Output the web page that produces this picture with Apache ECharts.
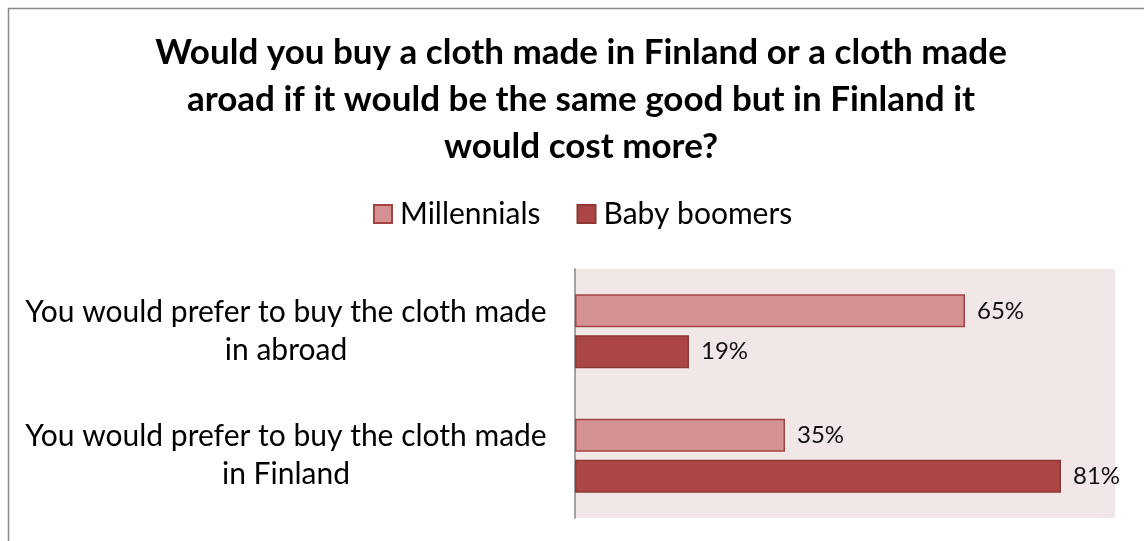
<!DOCTYPE html>
<html>
<head>
<meta charset="utf-8">
<script src="https://cdn.jsdelivr.net/npm/echarts@6/dist/echarts.min.js"></script>
<style>
html,body{margin:0;padding:0;background:#fff;}
#chart{width:1144px;height:541px;}
</style>
</head>
<body>
<div id="chart"></div>
<script>
const titleText = "Would you buy a cloth made in Finland or a cloth made\naroad if it would be the same good but in Finland it\nwould cost more?";
const categories = [
  "You would prefer to buy the cloth made\nin abroad",
  "You would prefer to buy the cloth made\nin Finland"
];
const seriesNames = ["Millennials", "Baby boomers"];
const millennials = [65, 35];
const babyBoomers = [19, 81];

const FONT = "Lato, 'Open Sans', sans-serif";
const chart = echarts.init(document.getElementById('chart'), null, {renderer: 'canvas'});
chart.setOption({
  backgroundColor: '#ffffff',
  animation: false,
  graphic: [{
    type: 'rect',
    shape: {x: 8.5, y: 8.5, width: 1300, height: 700},
    style: {fill: 'none', stroke: '#8a8a8a', lineWidth: 1.5},
    silent: true,
    z: -10
  }],
  title: {
    text: titleText,
    left: 576,
    top: 24,
    textAlign: 'center',
    textStyle: {
      fontFamily: FONT, fontWeight: 'bold', fontSize: 35, lineHeight: 47, color: '#000'
    }
  },
  legend: {
    data: seriesNames,
    left: 368,
    top: 194,
    icon: 'rect',
    itemWidth: 18,
    itemHeight: 18,
    itemGap: 36,
    textStyle: {fontFamily: FONT, fontSize: 30, color: '#000', padding: [0, 0, 0, 3]}
  },
  grid: {
    left: 575, right: 29, top: 269, bottom: 23,
    show: true, backgroundColor: '#f2e7e7', borderWidth: 0
  },
  xAxis: {
    type: 'value', min: 0, max: 90,
    show: false,
    splitLine: {show: false}
  },
  yAxis: {
    type: 'category',
    data: categories,
    inverse: true,
    axisLine: {show: true, lineStyle: {color: '#868686', width: 1.5}},
    axisTick: {show: false},
    axisLabel: {
      fontFamily: FONT, fontSize: 30, color: '#000', lineHeight: 38,
      align: 'center', margin: 289
    }
  },
  series: [
    {
      name: seriesNames[0], type: 'bar', data: millennials,
      barWidth: 33, barGap: '24%',
      itemStyle: {color: '#d49392', borderColor: '#a34442', borderWidth: 1.5},
      label: {show: true, position: 'right', distance: 12, formatter: '{c}%',
        fontFamily: FONT, fontSize: 24, color: '#111'}
    },
    {
      name: seriesNames[1], type: 'bar', data: babyBoomers,
      barWidth: 33, barGap: '24%',
      itemStyle: {color: '#aa4745', borderColor: '#8e3735', borderWidth: 1.5},
      label: {show: true, position: 'right', distance: 12, formatter: '{c}%',
        fontFamily: FONT, fontSize: 24, color: '#111'}
    }
  ]
});
</script>
</body>
</html>
